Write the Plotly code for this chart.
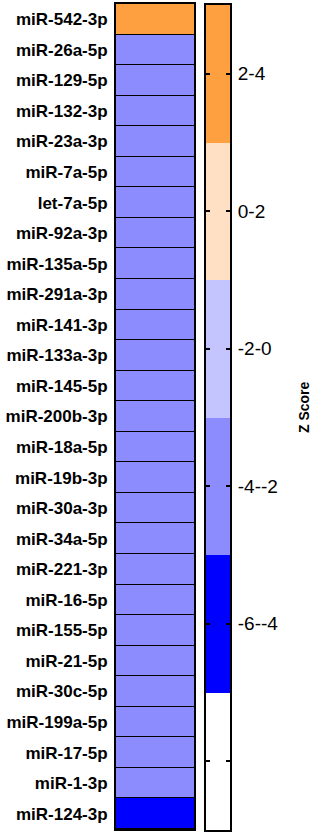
import plotly.graph_objects as go

mirnas = ["miR-542-3p", "miR-26a-5p", "miR-129-5p", "miR-132-3p", "miR-23a-3p",
          "miR-7a-5p", "let-7a-5p", "miR-92a-3p", "miR-135a-5p", "miR-291a-3p",
          "miR-141-3p", "miR-133a-3p", "miR-145-5p", "miR-200b-3p", "miR-18a-5p",
          "miR-19b-3p", "miR-30a-3p", "miR-34a-5p", "miR-221-3p", "miR-16-5p",
          "miR-155-5p", "miR-21-5p", "miR-30c-5p", "miR-199a-5p", "miR-17-5p",
          "miR-1-3p", "miR-124-3p"]
z_scores = [3, -3, -3, -3, -3, -3, -3, -3, -3, -3, -3, -3, -3, -3, -3, -3, -3, -3,
            -3, -3, -3, -3, -3, -3, -3, -3, -5]

bin_mid = [-7, -5, -3, -1, 1, 3]
bin_labels = ["", "-6--4", "-4--2", "-2-0", "0-2", "2-4"]
bin_colors = ["#FFFFFF", "#0000FF", "#8C8CFF", "#C4C4FF", "#FFE0C4", "#FFA040"]
zmin, zmax = -8, 4

cs = []
n = len(bin_colors)
for i, c in enumerate(bin_colors):
    cs.append([i / n, c])
    cs.append([(i + 1) / n, c])

FONT = "Liberation Sans, Arial, sans-serif"

fig = go.Figure()
fig.add_trace(go.Heatmap(
    z=[[v] for v in z_scores], y=mirnas, x=[0],
    colorscale=cs, zmin=zmin, zmax=zmax, showscale=False, ygap=1,
    xaxis="x", yaxis="y", hoverinfo="y+z"))
fig.add_trace(go.Heatmap(
    z=[[v] for v in bin_mid], y=bin_mid, x=[0],
    colorscale=cs, zmin=zmin, zmax=zmax, showscale=False,
    xaxis="x2", yaxis="y2", hoverinfo="skip"))

fig.update_layout(
    width=326, height=835,
    margin=dict(l=0, r=0, t=0, b=0),
    paper_bgcolor="white", plot_bgcolor="black",
    showlegend=False,
    font=dict(family=FONT, color="black"),
    xaxis=dict(domain=[116/326, 194/326], showticklabels=False, ticks="",
               showgrid=False, zeroline=False, showline=True, mirror=True,
               linecolor="black", linewidth=2),
    yaxis=dict(domain=[6/835, 831/835], autorange="reversed", type="category",
               showgrid=False, zeroline=False, showline=True, mirror=True,
               linecolor="black", linewidth=2, ticks="",
               tickfont=dict(family=FONT, size=17, weight="bold"),
               ticklabelstandoff=3),
    xaxis2=dict(domain=[206/326, 230/326], showticklabels=False, ticks="",
                showgrid=False, zeroline=False, showline=True, mirror=True,
                linecolor="black", linewidth=2, anchor="y2"),
    yaxis2=dict(domain=[5/835, 830/835], range=[zmin, zmax], anchor="x2",
                side="right", showgrid=False, zeroline=False, showline=True,
                mirror="ticks", linecolor="black", linewidth=2,
                ticks="inside", ticklen=4, tickwidth=2, tickcolor="black",
                tickvals=bin_mid, ticktext=bin_labels,
                tickfont=dict(family=FONT, size=19),
                ticklabelstandoff=2),
    annotations=[dict(text="<b>Z Score</b>", x=314/326, y=1 - 407/835,
                      xref="paper", yref="paper", textangle=-90,
                      showarrow=False, font=dict(family=FONT, size=14))],
)

fig.write_html("out.html", config={"displayModeBar": False},
               post_script="document.body.style.margin='0';document.body.style.overflow='hidden';")
